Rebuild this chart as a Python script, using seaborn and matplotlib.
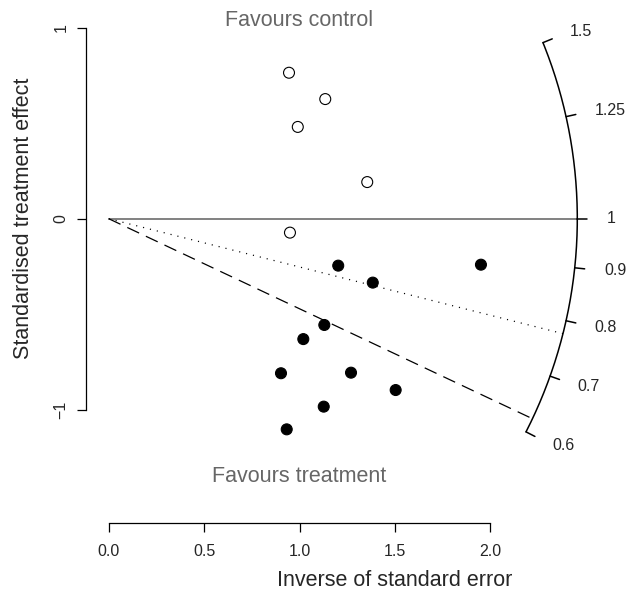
import numpy as np
import pandas as pd
import matplotlib
matplotlib.use("Agg")
import matplotlib.pyplot as plt
import seaborn as sns

# ---- data ----
precision_open = [0.945, 1.135, 0.991, 1.355, 0.950]
effect_open = [0.765, 0.627, 0.481, 0.192, -0.073]
precision_filled = [1.203, 1.384, 1.951, 1.130, 1.020, 0.903, 1.270, 1.504, 1.127, 0.933]
effect_filled = [-0.246, -0.335, -0.241, -0.557, -0.631, -0.810, -0.807, -0.898, -0.985, -1.104]

arc_ticks = [0.6, 0.7, 0.8, 0.9, 1.0, 1.25, 1.5]
arc_tick_labels = ["0.6", "0.7", "0.8", "0.9", "1", "1.25", "1.5"]
arc_radius = 2.456
pooled_log_effect = -0.253
second_log_effect = -0.472

x_ticks = [0.0, 0.5, 1.0, 1.5, 2.0]
x_tick_labels = ["0.0", "0.5", "1.0", "1.5", "2.0"]
y_ticks = [-1, 0, 1]
y_tick_labels = ["\u22121", "0", "1"]

# ---- style ----
sns.set_style("white")
plt.rcParams["font.family"] = ["Liberation Sans", "DejaVu Sans"]
plt.rcParams["lines.scale_dashes"] = False

W, H, DPI = 626, 595, 100
K = 190.8              # pixels per data unit
ox, oy = 108.7, 218.7  # pixel position of the origin

fig = plt.figure(figsize=(W / DPI, H / DPI), dpi=DPI)
ax = fig.add_axes([0, 0, 1, 1])
ax.set_xlim(-ox / K, (W - ox) / K)
ax.set_ylim((oy - H) / K, oy / K)

df = pd.DataFrame({
    "precision": precision_open + precision_filled,
    "effect": effect_open + effect_filled,
    "group": ["open"] * len(precision_open) + ["filled"] * len(precision_filled),
})
sns.scatterplot(data=df, x="precision", y="effect", hue="group",
                palette={"open": "white", "filled": "black"},
                edgecolor="black", linewidth=0.8, s=62, legend=False, ax=ax, zorder=3)

# zero line
ax.plot([0, arc_radius], [0, 0], color="#5f5f5f", lw=1.1, zorder=2)
# pooled (dotted) and second (dashed) lines
for b, ls in [(pooled_log_effect, (0, (0.8, 4.3))), (second_log_effect, (0, (9.4, 5.4)))]:
    th = np.arctan(b)
    ax.plot([0, arc_radius * np.cos(th)], [0, arc_radius * np.sin(th)],
            color="black", lw=0.9, linestyle=ls, zorder=2)

# arc scale
th_lo, th_hi = np.arctan(np.log(min(arc_ticks))), np.arctan(np.log(max(arc_ticks)))
tt = np.linspace(th_lo, th_hi, 300)
ax.plot(arc_radius * np.cos(tt), arc_radius * np.sin(tt), color="black", lw=1.1)
tick_len = 10 / K
label_r = 498 / K
for v, lab in zip(arc_ticks, arc_tick_labels):
    th = np.arctan(np.log(v))
    c, s_ = np.cos(th), np.sin(th)
    ax.plot([arc_radius * c, (arc_radius + tick_len) * c],
            [arc_radius * s_, (arc_radius + tick_len) * s_], color="black", lw=1.1)
    ax.text(label_r * c, label_r * s_, lab, ha="left", va="center", fontsize=11.5)

# axes
for sp in ["top", "right"]:
    ax.spines[sp].set_visible(False)
ax.spines["left"].set_position(("data", (86 - ox) / K))
ax.spines["left"].set_bounds(-1, 1)
ax.spines["bottom"].set_position(("data", (oy - 522.7) / K))
ax.spines["bottom"].set_bounds(0, 2)
for sp in ["left", "bottom"]:
    ax.spines[sp].set_linewidth(0.9)
    ax.spines[sp].set_color("black")
ax.set_xticks(x_ticks)
ax.set_xticklabels(x_tick_labels)
ax.set_yticks(y_ticks)
ax.set_yticklabels(y_tick_labels, rotation=90, va="center")
ax.tick_params(axis="both", direction="out", length=6.5, width=0.9, labelsize=11.5,
               color="black", left=True, bottom=True)
ax.tick_params(axis="x", pad=9)
ax.tick_params(axis="y", pad=6)
ax.set_xlabel("")
ax.set_ylabel("")

ax.text(1.501, (oy - 580) / K, "Inverse of standard error", ha="center", va="center", fontsize=15.5)
ax.text((24 - ox) / K, 0.0, "Standardised treatment effect", ha="center", va="center",
        rotation=90, fontsize=15.5)
ax.text(1.0, (oy - 20) / K, "Favours control", ha="center", va="center", fontsize=15.5, color="#666666")
ax.text(1.0, (oy - 477) / K, "Favours treatment", ha="center", va="center", fontsize=15.5, color="#666666")

fig.savefig("out.png", dpi=DPI)
